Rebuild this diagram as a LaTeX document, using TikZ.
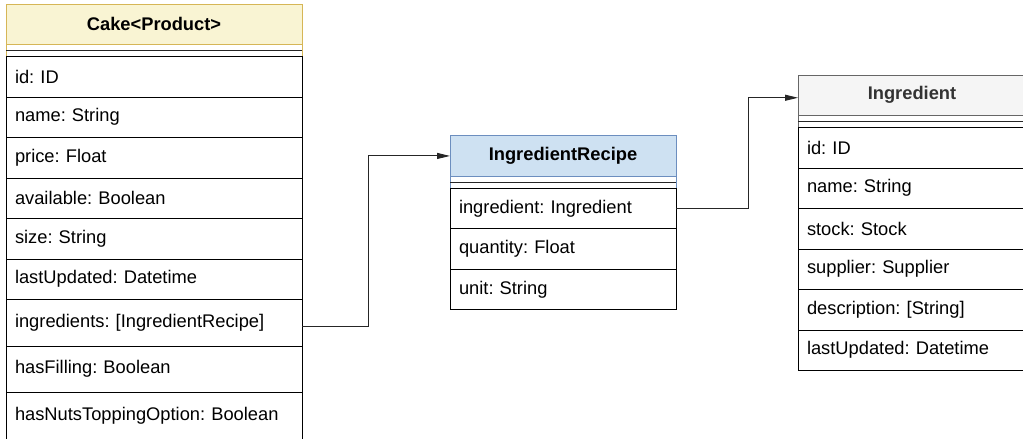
\documentclass[tikz,border=0pt]{standalone}
\usepackage{fontspec}
\setmainfont{Liberation Sans}
\usetikzlibrary{arrows.meta,positioning}
\frenchspacing

\definecolor{cakeFill}{HTML}{F9F4D3}
\definecolor{cakeLine}{HTML}{D6B656}
\definecolor{recipeFill}{HTML}{CEE1F2}
\definecolor{recipeLine}{HTML}{6C8EBF}
\definecolor{ingFill}{HTML}{F5F5F5}
\definecolor{ingLine}{HTML}{666666}
\definecolor{ingText}{HTML}{333333}

\begin{document}
\begin{tikzpicture}[
  x=1pt, y=-1pt, >={Triangle[length=13pt,width=6pt]},
  font=\fontsize{18.3}{22}\selectfont, node distance=0pt,
  head/.style={draw, line width=1pt, font=\fontsize{18.3}{22}\selectfont\bfseries,
    minimum width=#1, minimum height=40.5pt, inner sep=0pt, outer sep=0pt},
  gap/.style={draw, line width=1pt, fill=white, minimum width=#1,
    minimum height=12pt, inner sep=0pt, outer sep=0pt},
  row/.style={draw=black, line width=1pt, fill=white, text width=#1, align=left,
    inner xsep=9pt, inner ysep=0pt, minimum height=40.5pt, outer sep=0pt},
  sep/.style={line width=1pt, black!85},
  link/.style={->, line width=1pt, black!85},
]
  \useasboundingbox (0,0) rectangle (1023,439);

  % Cake<Product>
  \node[head=296pt, fill=cakeFill, draw=cakeLine, anchor=north west] (cakeHead) at (6,4) {Cake<Product>};
  \node[gap=296pt, draw=cakeLine, below=of cakeHead] (cakeGap) {};
  \node[row=278pt, below=of cakeGap] (cakeId) {id: ID};
  \node[row=278pt, below=of cakeId] (cakeName) {name: String};
  \node[row=278pt, below=of cakeName] (cakePrice) {price: Float};
  \node[row=278pt, below=of cakePrice] (cakeAvail) {available: Boolean};
  \node[row=278pt, below=of cakeAvail] (cakeSize) {size: String};
  \node[row=278pt, below=of cakeSize] (cakeUpd) {lastUpdated: Datetime};
  \node[row=278pt, minimum height=46.5pt, below=of cakeUpd] (cakeIngr) {ingredients: [IngredientRecipe]};
  \node[row=278pt, minimum height=46.5pt, below=of cakeIngr] (cakeFill) {hasFilling: Boolean};
  \node[row=278pt, minimum height=47pt, below=of cakeFill] (cakeNuts) {hasNutsToppingOption: Boolean};
  \draw[sep] (cakeGap.west) -- (cakeGap.east);

  % IngredientRecipe
  \node[head=226pt, fill=recipeFill, draw=recipeLine, anchor=north west] (recipeHead) at (450,135.7) {IngredientRecipe};
  \node[gap=226pt, draw=recipeLine, below=of recipeHead] (recipeGap) {};
  \node[row=208pt, below=of recipeGap] (recipeIngr) {ingredient: Ingredient};
  \node[row=208pt, below=of recipeIngr] (recipeQty) {quantity: Float};
  \node[row=208pt, below=of recipeQty] (recipeUnit) {unit: String};
  \draw[sep] (recipeGap.west) -- (recipeGap.east);

  % Ingredient
  \node[head=228pt, fill=ingFill, draw=ingLine, text=ingText, anchor=north west] (ingHead) at (798,75) {Ingredient};
  \node[gap=228pt, draw=ingLine, below=of ingHead] (ingGap) {};
  \node[row=210pt, below=of ingGap] (ingId) {id: ID};
  \node[row=210pt, below=of ingId] (ingName) {name: String};
  \node[row=210pt, below=of ingName] (ingStock) {stock: Stock};
  \node[row=210pt, below=of ingStock] (ingSupp) {supplier: Supplier};
  \node[row=210pt, below=of ingSupp] (ingDesc) {description: [String]};
  \node[row=210pt, below=of ingDesc] (ingUpd) {lastUpdated: Datetime};
  \draw[sep] (ingGap.west) -- (ingGap.east);

  \draw[link] ([yshift=-4pt]cakeIngr.east) -- ++(66,0) |- (recipeHead.west);
  \draw[link] (recipeIngr.east) -- ++(72,0) |- ([yshift=-2.5pt]ingHead.west);
\end{tikzpicture}
\end{document}
